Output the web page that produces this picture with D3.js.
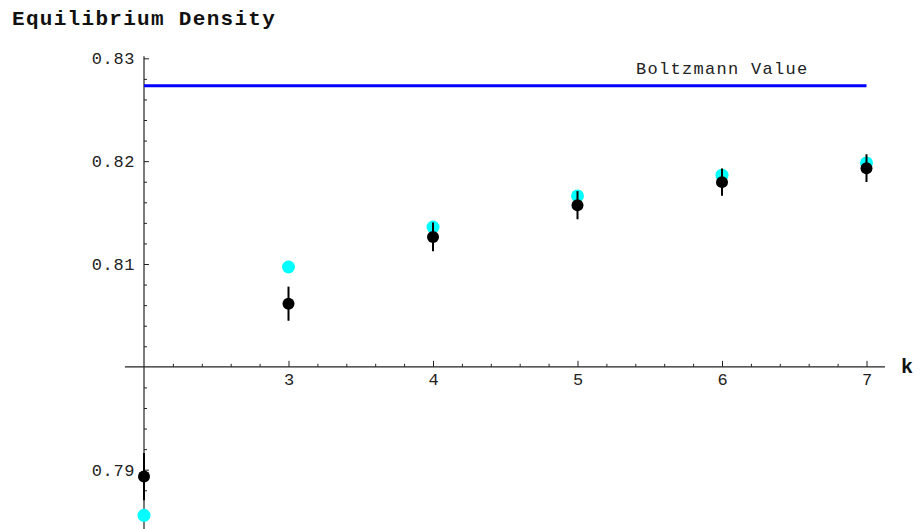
<!DOCTYPE html>
<html>
<head>
<meta charset="utf-8">
<script src="https://cdn.jsdelivr.net/npm/d3@7"></script>
<style>
  body { margin: 0; background: #fff; }
  svg { display: block; }
  .axis text { font-family: "Nimbus Mono PS", "Courier", "FreeMono", "Liberation Mono", "Courier New", monospace; fill: #222; }
  .axis path { display: none; }
  .axis line { stroke: #222; }
</style>
</head>
<body>
<div id="chart"></div>
<script>
// Values
var kValues = [2, 3, 4, 5, 6, 7];
var simDensity = [0.78933, 0.80614, 0.81263, 0.81572, 0.81796, 0.81932];
var simError = [0.0023, 0.00166, 0.0014, 0.00137, 0.00133, 0.00135];
var theoryDensity = [0.78556, 0.80971, 0.81360, 0.81662, 0.81864, 0.81983];
var boltzmannValue = 0.82733;
var xTickLabels = [3, 4, 5, 6, 7];
var yTickLabels = [0.79, 0.81, 0.82, 0.83];

var width = 920, height = 529;
var monoFont = '"Nimbus Mono PS", "Courier", "FreeMono", "Liberation Mono", "Courier New", monospace';

var svg = d3.select('#chart').append('svg')
  .attr('width', width)
  .attr('height', height);

// Scales: origin of the axes sits at k = 2, density = 0.80
var x = d3.scaleLinear().domain([2, 7]).range([144, 866.5]);
var y = d3.scaleLinear().domain([0.79, 0.83]).range([469.7, 58.3]);
var xOrigin = 2, yOrigin = 0.80;

// Title
svg.append('text')
  .attr('x', 12)
  .attr('y', 25)
  .style('font-family', monoFont)
  .style('font-weight', 'bold')
  .style('font-size', '21px')
  .style('letter-spacing', '1.3px')
  .attr('fill', '#111')
  .text('Equilibrium Density');

// Axis lines
svg.append('line')
  .attr('x1', x(1.868)).attr('x2', x(7.128))
  .attr('y1', y(yOrigin)).attr('y2', y(yOrigin))
  .attr('stroke', '#222').attr('stroke-width', 1.2);
svg.append('line')
  .attr('x1', x(xOrigin)).attr('x2', x(xOrigin))
  .attr('y1', y(0.8302)).attr('y2', y(0.7835))
  .attr('stroke', '#222').attr('stroke-width', 1.2);

// Minor ticks
var xMinor = d3.range(2.2, 7.05, 0.2).filter(function (d) {
  return Math.abs(d - Math.round(d)) > 0.01;
});
var yMinor = d3.range(0.784, 0.8305, 0.002).filter(function (d) {
  return Math.abs(d * 100 - Math.round(d * 100)) > 0.01;
});

svg.append('g')
  .attr('class', 'axis')
  .attr('transform', 'translate(0,' + y(yOrigin) + ')')
  .call(d3.axisBottom(x).tickValues(xMinor).tickSize(-3).tickFormat(''));
svg.append('g')
  .attr('class', 'axis')
  .attr('transform', 'translate(' + x(xOrigin) + ',0)')
  .call(d3.axisLeft(y).tickValues(yMinor).tickSize(-3).tickFormat(''));

// Major ticks with labels
svg.append('g')
  .attr('class', 'axis')
  .attr('transform', 'translate(0,' + y(yOrigin) + ')')
  .call(d3.axisBottom(x).tickValues(xTickLabels).tickSize(-6).tickPadding(6)
    .tickFormat(d3.format('d')))
  .selectAll('text')
  .style('font-size', '17px');
svg.append('g')
  .attr('class', 'axis')
  .attr('transform', 'translate(' + x(xOrigin) + ',0)')
  .call(d3.axisLeft(y).tickValues(yTickLabels).tickSize(-5).tickPadding(9)
    .tickFormat(d3.format('.2f')))
  .selectAll('text')
  .style('font-size', '17px')
  .style('letter-spacing', '0.6px');

// Axis label k
svg.append('text')
  .attr('x', 901)
  .attr('y', 373)
  .style('font-family', monoFont)
  .style('font-weight', 'bold')
  .style('font-size', '20px')
  .attr('fill', '#111')
  .text('k');

// Boltzmann line and label
svg.append('line')
  .attr('x1', x(2)).attr('x2', x(7))
  .attr('y1', y(boltzmannValue)).attr('y2', y(boltzmannValue))
  .attr('stroke', '#0000ff').attr('stroke-width', 3);
svg.append('text')
  .attr('x', 636)
  .attr('y', 74)
  .style('font-family', monoFont)
  .style('font-size', '17px')
  .style('letter-spacing', '1.3px')
  .attr('fill', '#222')
  .text('Boltzmann Value');

// Cyan points
svg.append('g').selectAll('circle')
  .data(kValues)
  .enter().append('circle')
  .attr('cx', function (d) { return x(d); })
  .attr('cy', function (d, i) { return y(theoryDensity[i]); })
  .attr('r', 6.5)
  .attr('fill', '#00ffff');

// Error bars
svg.append('g').selectAll('line')
  .data(kValues)
  .enter().append('line')
  .attr('x1', function (d) { return x(d); })
  .attr('x2', function (d) { return x(d); })
  .attr('y1', function (d, i) { return y(simDensity[i] + simError[i]); })
  .attr('y2', function (d, i) { return y(simDensity[i] - simError[i]); })
  .attr('stroke', '#000')
  .attr('stroke-width', 2);

// Black points
svg.append('g').selectAll('circle')
  .data(kValues)
  .enter().append('circle')
  .attr('cx', function (d) { return x(d); })
  .attr('cy', function (d, i) { return y(simDensity[i]); })
  .attr('r', 6)
  .attr('fill', '#000');
</script>
</body>
</html>
